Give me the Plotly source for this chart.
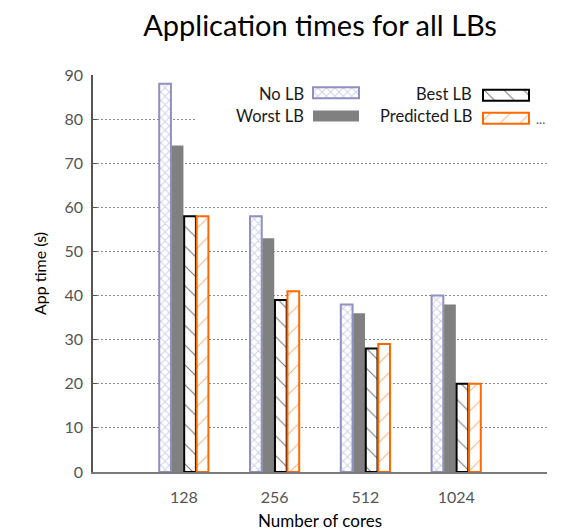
import plotly.graph_objects as go

# ---- data ----
cores = ["128", "256", "512", "1024"]
no_lb = [88, 58, 38, 40]
worst_lb = [74, 53, 36, 38]
best_lb = [58, 39, 28, 20]
predicted_lb = [58, 41, 29, 20]
y_ticks = [0, 10, 20, 30, 40, 50, 60, 70, 80, 90]

# ---- styles ----
FONT = "Lato"
LAVENDER_LINE = "#9090c2"
LAVENDER_HATCH = "#a8a8d6"
ORANGE = "#ff6a00"
GRAY = "#808080"

series = [
    dict(name="No LB", values=no_lb,
         marker=dict(color="white",
                     line=dict(color=LAVENDER_LINE, width=2),
                     pattern=dict(shape="x", fgcolor=LAVENDER_HATCH, bgcolor="white",
                                  size=6, solidity=0.35))),
    dict(name="Worst LB", values=worst_lb,
         marker=dict(color=GRAY, line=dict(color=GRAY, width=0))),
    dict(name="Best LB", values=best_lb,
         marker=dict(color="white",
                     line=dict(color="black", width=2),
                     pattern=dict(shape="\\", fgcolor="black", bgcolor="white",
                                  size=14, solidity=0.08))),
    dict(name="Predicted LB", values=predicted_lb,
         marker=dict(color="white",
                     line=dict(color=ORANGE, width=2),
                     pattern=dict(shape="/", fgcolor=ORANGE, bgcolor="white",
                                  size=14, solidity=0.08))),
]

fig = go.Figure()
for s in series:
    fig.add_trace(go.Bar(x=cores, y=s["values"], name=s["name"],
                         marker=s["marker"], showlegend=False))

# ---- key drawn in a pixel-unit overlay (text left of swatch) ----
PLOT_L, PLOT_R, PLOT_T, PLOT_B = 93, 547, 75, 472
SW_W, SW_H = 46, 11
key_cols = [(306, 313), (474, 483)]      # (text right edge, swatch left)
key_rows = [94, 116]                     # row centres
key_layout = [(0, 0), (1, 0), (0, 1), (1, 1)]  # (row, col) per series

# white panel behind the key, hiding the grid there
KEY_X0, KEY_Y0, KEY_Y1 = 197, 81, 130
fig.add_trace(go.Bar(x=[PLOT_R - KEY_X0], base=[KEY_X0], y=[(KEY_Y0 + KEY_Y1) / 2],
                     width=[KEY_Y1 - KEY_Y0], orientation="h",
                     marker=dict(color="white", line=dict(width=0)),
                     xaxis="x2", yaxis="y2", showlegend=False, hoverinfo="skip"))

for s, (r, c) in zip(series, key_layout):
    text_right, sw_left = key_cols[c]
    yc = key_rows[r]
    fig.add_trace(go.Bar(x=[SW_W], base=[sw_left], y=[yc], width=[SW_H],
                         orientation="h", marker=s["marker"],
                         xaxis="x2", yaxis="y2", showlegend=False,
                         hoverinfo="skip"))
    fig.add_annotation(x=text_right, y=yc, xref="x2", yref="y2",
                       text=s["name"], showarrow=False, xanchor="right",
                       yanchor="middle", font=dict(family=FONT, size=16.5, color="#1a1a1a"))

fig.add_annotation(x=PLOT_R, y=key_rows[1] + 3, xref="x2", yref="y2", text="...",
                   showarrow=False, xanchor="right", yanchor="middle",
                   font=dict(family=FONT, size=13, color="#666666"))

fig.update_layout(
    width=585, height=532,
    margin=dict(l=PLOT_L, r=585 - PLOT_R, t=PLOT_T, b=532 - PLOT_B, autoexpand=False),
    paper_bgcolor="white", plot_bgcolor="white",
    barmode="group", bargap=0.45, bargroupgap=0.06,
    title=dict(text="Application times for all LBs", x=(PLOT_L + PLOT_R) / 2 / 585,
               xanchor="center", y=1 - 26 / 532, yanchor="middle", yref="container",
               font=dict(family=FONT, size=29, color="black")),
    xaxis=dict(type="category", range=[-1, 4], showgrid=False, zeroline=False,
               automargin=False,
               showline=True, linecolor="#7a7a7a", linewidth=2, ticks="",
               ticklabelstandoff=10,
               tickfont=dict(family=FONT, size=16, color="#555555"),
               title=dict(text="Number of cores", standoff=10,
                          font=dict(family=FONT, size=17, color="black"))),
    yaxis=dict(range=[0, 90], tickvals=y_ticks, showgrid=True, gridcolor="#8a8a8a",
               gridwidth=1, griddash="2px,2px", zeroline=False,
               automargin=False,
               showline=True, linecolor="#555555", linewidth=1.5,
               ticks="inside", ticklen=4, tickcolor="#555555", ticklabelstandoff=5,
               tickfont=dict(family=FONT, size=16, color="#555555"),
               title=dict(text="App time (s)", standoff=14,
                          font=dict(family=FONT, size=16, color="black"))),
    xaxis2=dict(overlaying="x", range=[PLOT_L, PLOT_R], visible=False, fixedrange=True),
    yaxis2=dict(overlaying="y", range=[PLOT_B, PLOT_T], visible=False, fixedrange=True),
)

fig.write_html("out.html")
